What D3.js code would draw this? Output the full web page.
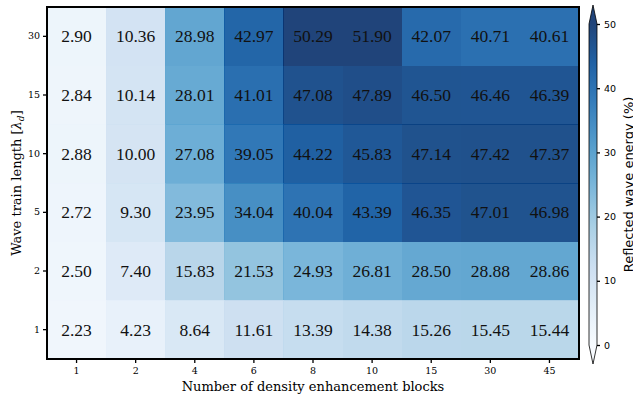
<!DOCTYPE html>
<html>
<head>
<meta charset="utf-8">
<script src="https://cdn.jsdelivr.net/npm/d3@7"></script>
<style>
  body { margin: 0; background: #fff; }
  svg { display: block; }
</style>
</head>
<body>
<div id="chart"></div>
<script>
// Data
var blocks = ["1", "2", "4", "6", "8", "10", "15", "30", "45"];
var trainLengths = ["30", "15", "10", "5", "2", "1"];   // top to bottom

var row30 = [2.90, 10.36, 28.98, 42.97, 50.29, 51.90, 42.07, 40.71, 40.61];
var row15 = [2.84, 10.14, 28.01, 41.01, 47.08, 47.89, 46.50, 46.46, 46.39];
var row10 = [2.88, 10.00, 27.08, 39.05, 44.22, 45.83, 47.14, 47.42, 47.37];
var row5  = [2.72, 9.30, 23.95, 34.04, 40.04, 43.39, 46.35, 47.01, 46.98];
var row2  = [2.50, 7.40, 15.83, 21.53, 24.93, 26.81, 28.50, 28.88, 28.86];
var row1  = [2.23, 4.23, 8.64, 11.61, 13.39, 14.38, 15.26, 15.45, 15.44];
var rows = [row30, row15, row10, row5, row2, row1];

var cbTicks = [0, 10, 20, 30, 40, 50];

// Parameters
var width = 633, height = 399,
    plot = { left: 47, right: 579, top: 7, bottom: 359 },
    cb = { left: 589, width: 8, top: 24, bottom: 345, ext: 19 },
    alpha = 0.9;

var cells = [];
rows.forEach(function(r, i) {
  r.forEach(function(v, j) {
    cells.push({ row: trainLengths[i], col: blocks[j], value: v });
  });
});

// Colour map (matplotlib "Blues", linear through the 9 ColorBrewer stops)
var blues = d3.schemeBlues[9];
var color = d3.scaleLinear()
    .domain(d3.range(9).map(function(i) { return i * 50 / 8; }))
    .range(blues)
    .clamp(true);

var x = d3.scaleBand().domain(blocks).range([plot.left, plot.right]);
var y = d3.scaleBand().domain(trainLengths).range([plot.top, plot.bottom]);

var svg = d3.select("#chart").append("svg")
    .attr("width", width)
    .attr("height", height);

// Cells
svg.append("g").selectAll("rect")
    .data(cells)
  .enter().append("rect")
    .attr("x", function(d) { return x(d.col); })
    .attr("y", function(d) { return y(d.row); })
    .attr("width", x.bandwidth() + 0.5)
    .attr("height", y.bandwidth() + 0.5)
    .style("fill", function(d) { return color(d.value); })
    .style("fill-opacity", alpha)
    .style("shape-rendering", "crispEdges");

svg.append("g").selectAll("text")
    .data(cells)
  .enter().append("text")
    .attr("x", function(d) { return x(d.col) + x.bandwidth() / 2; })
    .attr("y", function(d) { return y(d.row) + y.bandwidth() / 2; })
    .attr("dy", "0.35em")
    .attr("text-anchor", "middle")
    .style("font-family", "'Liberation Serif', 'Times New Roman', serif")
    .style("font-size", "17.5px")
    .style("fill", "#111")
    .text(function(d) { return d.value.toFixed(2); });

// Axes
var xAxis = svg.append("g")
    .attr("transform", "translate(0," + plot.bottom + ")")
    .call(d3.axisBottom(x).tickSize(4).tickPadding(4));
var yAxis = svg.append("g")
    .attr("transform", "translate(" + plot.left + ",0)")
    .call(d3.axisLeft(y).tickSize(4).tickPadding(3));

[xAxis, yAxis].forEach(function(a) {
  a.select(".domain").remove();
  a.selectAll(".tick line").style("stroke", "#000").style("stroke-width", 1.3);
  a.selectAll(".tick text")
    .style("font-family", "'DejaVu Serif', serif")
    .style("font-size", "9.5px")
    .style("fill", "#000");
});

// Frame
svg.append("rect")
    .attr("x", plot.left)
    .attr("y", plot.top)
    .attr("width", plot.right - plot.left)
    .attr("height", plot.bottom - plot.top)
    .style("fill", "none")
    .style("stroke", "#000")
    .style("stroke-width", 2);

// Axis labels
svg.append("text")
    .attr("x", (plot.left + plot.right) / 2)
    .attr("y", 391)
    .attr("text-anchor", "middle")
    .style("font-family", "'DejaVu Serif', serif")
    .style("font-size", "13px")
    .text("Number of density enhancement blocks");

var yl = svg.append("text")
    .attr("transform", "translate(21," + (plot.top + plot.bottom) / 2 + ") rotate(-90)")
    .attr("text-anchor", "middle")
    .style("font-family", "'DejaVu Serif', serif")
    .style("font-size", "13px");
yl.append("tspan").text("Wave train length [");
yl.append("tspan").style("font-style", "italic").text("\u03BB");
yl.append("tspan").attr("dy", 3).style("font-size", "9px").style("font-style", "italic").text("d");
yl.append("tspan").attr("dy", -3).text("]");

// Colourbar
var cbScale = d3.scaleLinear().domain([0, 50]).range([cb.bottom, cb.top]);
var defs = svg.append("defs");
var grad = defs.append("linearGradient")
    .attr("id", "cbGrad")
    .attr("x1", 0).attr("y1", 1).attr("x2", 0).attr("y2", 0);
d3.range(0, 51, 2).forEach(function(v) {
  grad.append("stop")
    .attr("offset", v / 50)
    .attr("stop-color", color(v));
});

var cbg = svg.append("g").style("fill-opacity", alpha);
cbg.append("rect")
    .attr("x", cb.left)
    .attr("y", cb.top)
    .attr("width", cb.width)
    .attr("height", cb.bottom - cb.top)
    .style("fill", "url(#cbGrad)");

// extend triangles
cbg.append("path")
    .attr("d", "M" + cb.left + "," + cb.top + "L" + (cb.left + cb.width / 2) + "," + (cb.top - cb.ext) +
               "L" + (cb.left + cb.width) + "," + cb.top + "Z")
    .style("fill", color(50));
cbg.append("path")
    .attr("d", "M" + cb.left + "," + cb.bottom + "L" + (cb.left + cb.width / 2) + "," + (cb.bottom + cb.ext) +
               "L" + (cb.left + cb.width) + "," + cb.bottom + "Z")
    .style("fill", color(0));

// outline
svg.append("path")
    .attr("d", "M" + cb.left + "," + cb.top +
               "L" + (cb.left + cb.width / 2) + "," + (cb.top - cb.ext) +
               "L" + (cb.left + cb.width) + "," + cb.top +
               "L" + (cb.left + cb.width) + "," + cb.bottom +
               "L" + (cb.left + cb.width / 2) + "," + (cb.bottom + cb.ext) +
               "L" + cb.left + "," + cb.bottom + "Z")
    .style("fill", "none")
    .style("stroke", "#000")
    .style("stroke-width", 0.8);

var cbAxis = svg.append("g")
    .attr("transform", "translate(" + (cb.left + cb.width) + ",0)")
    .call(d3.axisRight(cbScale).tickValues(cbTicks).tickSize(3).tickPadding(4));
cbAxis.select(".domain").remove();
cbAxis.selectAll(".tick line").style("stroke", "#000").style("stroke-width", 1.3);
cbAxis.selectAll(".tick text")
    .style("font-family", "'DejaVu Sans', sans-serif")
    .style("font-size", "9.5px")
    .style("fill", "#000");

svg.append("text")
    .attr("transform", "translate(633," + (cb.top + cb.bottom) / 2 + ") rotate(-90)")
    .attr("text-anchor", "middle")
    .style("font-family", "'DejaVu Sans', sans-serif")
    .style("font-size", "13px")
    .text("Reflected wave energy (%)");
</script>
</body>
</html>
